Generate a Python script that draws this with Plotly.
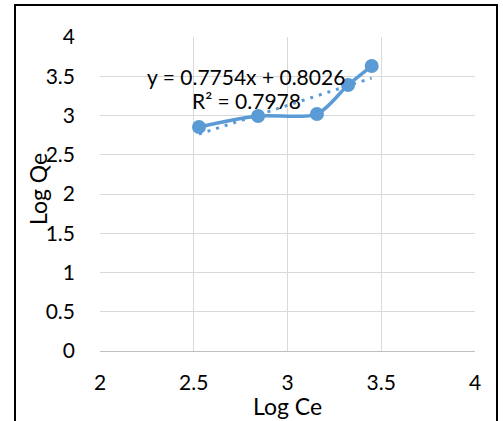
import plotly.graph_objects as go

log_ce = [2.528, 2.843, 3.157, 3.323, 3.449]
log_qe = [2.854, 2.994, 3.019, 3.389, 3.630]
slope = 0.7754
intercept = 0.8026
eq_text = "y = 0.7754x + 0.8026"
r2_text = "R² = 0.7978"
x_title = "Log Ce"
y_title = "Log Qe"
x_ticks = [2, 2.5, 3, 3.5, 4]
y_ticks = [0, 0.5, 1, 1.5, 2, 2.5, 3, 3.5, 4]

blue = "#5B9BD5"
font = "Lato, Calibri, Carlito, sans-serif"

trend_x = [min(log_ce), max(log_ce)]
trend_y = [slope * v + intercept for v in trend_x]

fig = go.Figure()
fig.add_trace(go.Scatter(x=trend_x, y=trend_y, mode="lines",
                         line=dict(color=blue, width=3, dash="3px,6px"),
                         showlegend=False, hoverinfo="skip"))
fig.add_trace(go.Scatter(x=log_ce, y=log_qe, mode="lines+markers",
                         line=dict(color=blue, width=3.5, shape="spline", smoothing=0.8),
                         marker=dict(color=blue, size=14),
                         showlegend=False))

fig.add_annotation(x=2.779, y=3.50, xref="x", yref="y", text=eq_text,
                   showarrow=False, font=dict(family=font, size=21, color="black"))
fig.add_annotation(x=2.779, y=3.19, xref="x", yref="y", text=r2_text,
                   showarrow=False, font=dict(family=font, size=21, color="black"))

# axis titles
fig.add_annotation(x=0.5, y=(351 - 406) / 314, xref="paper", yref="paper",
                   text=x_title, showarrow=False, yanchor="middle",
                   font=dict(family=font, size=23, color="black"))
fig.add_annotation(x=(38 - 100) / 375, y=(351 - 189) / 314, xref="paper", yref="paper",
                   text=y_title, showarrow=False, textangle=-90,
                   xanchor="center", yanchor="middle",
                   font=dict(family=font, size=23, color="black"))

# outer chart border
fig.add_shape(type="rect", xref="paper", yref="paper",
              x0=(15 - 100) / 375, x1=(497 - 100) / 375,
              y0=(351 - 430) / 314, y1=(351 - 5) / 314,
              line=dict(color="black", width=2))

fig.update_layout(
    width=503, height=421,
    margin=dict(l=100, r=28, t=37, b=70),
    paper_bgcolor="white", plot_bgcolor="white",
    font=dict(family=font, size=21, color="black"),
    xaxis=dict(range=[2, 4], tickvals=x_ticks, showgrid=True, gridcolor="#D9D9D9",
               gridwidth=1, zeroline=False, showline=True, linecolor="#BFBFBF",
               linewidth=1, ticks="", ticklabelstandoff=13, automargin=False),
    yaxis=dict(range=[0, 4], tickvals=y_ticks, showgrid=True, gridcolor="#D9D9D9",
               gridwidth=1, zeroline=False, showline=False, ticks="",
               ticklabelstandoff=24, automargin=False),
)

fig.write_html("out.html", config={"displayModeBar": False},
               post_script="document.body.style.margin='0';document.body.style.overflow='hidden';")
